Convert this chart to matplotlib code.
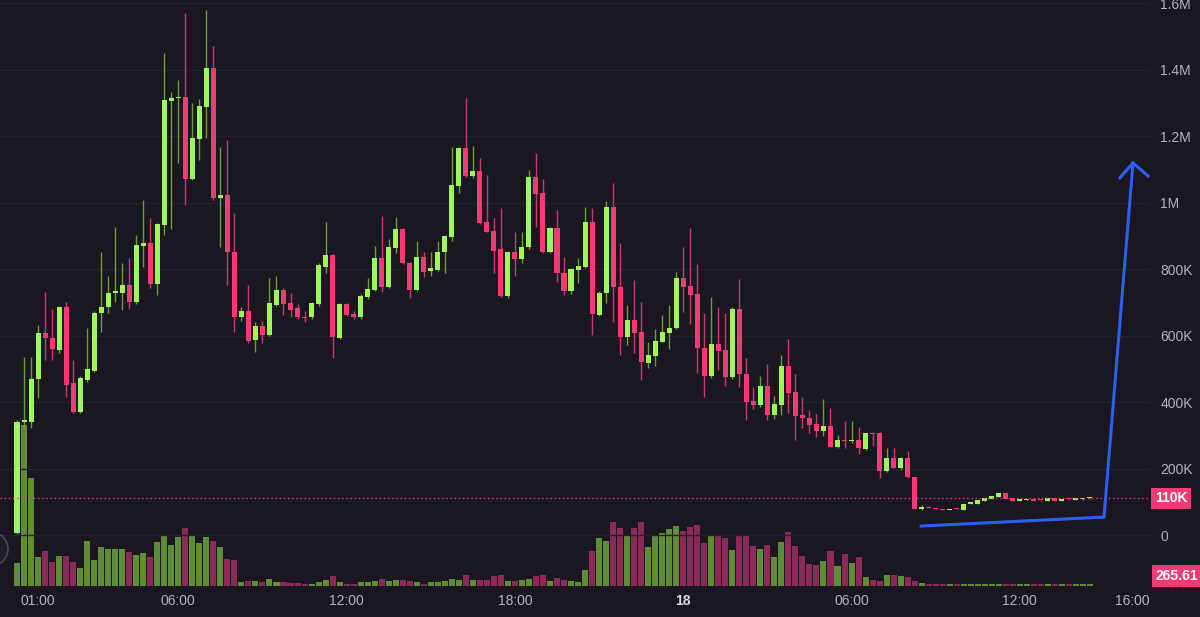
import numpy as np
import pandas as pd
import matplotlib
matplotlib.use("Agg")
import matplotlib.pyplot as plt
import matplotlib.dates as mdates
from matplotlib.patches import Circle

plt.rcParams['font.family'] = ['Liberation Sans', 'DejaVu Sans']

# ---------------- data (prices in K, 15-minute candles) ----------------
start_time = "2024-03-17 00:15"
opens = [6, 340, 340, 469, 608, 593, 556, 686, 457, 370, 466, 493, 668, 686, 728, 728, 752, 701, 869, 878,
         755, 932, 1305, 1314, 1320, 1071, 1191, 1287, 1405, 1014, 1023, 851, 656, 674, 587, 629, 602, 692, 737, 698,
         683, 656, 656, 695, 806, 842, 593, 695, 665, 656, 716, 737, 833, 746, 863, 920, 818, 737, 836, 794,
         797, 851, 896, 1050, 1164, 1080, 1095, 941, 914, 860, 719, 851, 830, 866, 1077, 1029, 851, 923, 788, 734,
         797, 806, 941, 662, 728, 987, 746, 596, 647, 611, 517, 538, 581, 608, 623, 773, 749, 725, 563, 478,
         575, 556, 475, 680, 484, 403, 391, 448, 361, 391, 508, 430, 361, 352, 334, 313, 328, 265, 286, 283,
         286, 259, 307, 307, 193, 232, 202, 232, 174, 78, 84, 81, 78, 75, 81, 75, 93, 93, 102, 108,
         114, 126, 111, 102, 105, 108, 105, 102, 111, 102, 108, 105, 107, 110]
highs = [346, 535, 535, 632, 731, 680, 689, 700, 526, 478, 623, 675, 851, 779, 926, 818, 833, 902, 1008, 953,
         940, 1450, 1335, 1369, 1570, 1299, 1311, 1579, 1471, 1167, 1188, 969, 686, 752, 641, 644, 773, 779, 745, 728,
         695, 674, 701, 818, 942, 845, 698, 698, 674, 725, 773, 869, 960, 890, 957, 923, 821, 884, 851, 851,
         884, 902, 1167, 1167, 1314, 1170, 1134, 1083, 953, 984, 854, 911, 911, 1098, 1149, 1071, 926, 978, 836, 803,
         833, 987, 984, 734, 1005, 1059, 878, 692, 767, 701, 581, 620, 662, 692, 791, 866, 923, 815, 668, 716,
         686, 668, 686, 770, 532, 445, 478, 514, 418, 541, 590, 484, 415, 376, 364, 409, 382, 301, 343, 343,
         325, 307, 310, 310, 262, 262, 234, 253, 176, 90, 86, 82, 79, 79, 82, 94, 100, 106, 112, 118,
         127, 127, 112, 109, 109, 109, 106, 112, 112, 109, 109, 111, 111, 111]
lows = [3, 316, 322, 412, 526, 526, 547, 415, 367, 367, 460, 490, 611, 668, 701, 677, 680, 695, 806, 743,
        722, 902, 920, 1119, 993, 1068, 1128, 1194, 1008, 866, 752, 611, 644, 578, 550, 578, 598, 688, 662, 656,
        650, 641, 650, 689, 788, 532, 590, 660, 650, 650, 710, 734, 731, 743, 850, 815, 713, 734, 776, 780,
        794, 788, 884, 1029, 1077, 1074, 935, 911, 788, 716, 713, 779, 818, 860, 926, 848, 848, 761, 722, 725,
        758, 803, 602, 659, 698, 641, 541, 572, 547, 466, 502, 510, 580, 560, 620, 671, 635, 487, 415, 472,
        496, 448, 470, 445, 346, 380, 385, 346, 349, 361, 367, 286, 322, 307, 295, 298, 265, 262, 262, 277,
        244, 256, 268, 171, 190, 202, 196, 171, 78, 75, 80, 77, 74, 74, 77, 74, 92, 92, 101, 107,
        113, 107, 101, 101, 104, 101, 103, 101, 101, 101, 106, 104, 106, 109]
closes = [340, 345, 469, 608, 593, 560, 686, 451, 370, 472, 499, 668, 686, 728, 734, 752, 701, 872, 878, 755,
          935, 1308, 1317, 1320, 1071, 1194, 1290, 1405, 1014, 1023, 851, 656, 674, 584, 629, 602, 698, 737, 695, 677,
          656, 653, 698, 812, 842, 596, 695, 662, 656, 719, 740, 833, 746, 866, 920, 818, 737, 836, 791, 803,
          851, 899, 1053, 1164, 1080, 1095, 938, 911, 854, 719, 851, 830, 866, 1077, 1026, 851, 923, 788, 734, 800,
          809, 941, 665, 728, 987, 746, 596, 647, 608, 520, 541, 584, 611, 623, 773, 746, 722, 563, 478, 575,
          553, 475, 680, 484, 400, 391, 448, 361, 394, 508, 427, 358, 352, 331, 313, 328, 265, 286, 283, 286,
          262, 307, 304, 193, 232, 202, 232, 174, 78, 84, 81, 78, 75, 78, 78, 93, 99, 105, 111, 117,
          126, 108, 102, 108, 108, 102, 104, 111, 102, 108, 107, 110, 110, 110]
volumes = [23, 160, 108, 29, 35, 24, 30, 30, 24, 18, 45, 26, 39, 37, 37, 37, 34, 31, 33, 29,
           44, 50, 41, 49, 58, 51, 43, 49, 45, 39, 27, 26, 4, 5, 5, 4, 7, 4, 4, 3,
           3, 2, 2, 3.5, 6, 10, 3.5, 2, 2, 3.5, 3.5, 4.5, 6.5, 4.5, 5.5, 5.5, 4.5, 3.5, 2, 3.5,
           3.5, 4.5, 6.5, 5.5, 10.5, 5.5, 5.5, 5.5, 10, 11, 4.5, 4.5, 5.5, 6.5, 10, 11, 4.5, 8, 5.5, 4.5,
           4, 16, 35, 48, 45, 64, 58, 51, 58, 64, 39, 51, 53, 57, 60, 55, 59, 61, 43, 50,
           51, 48, 36, 51, 50, 40, 37, 41, 29, 44, 54, 40, 30, 22, 21, 25, 35, 20, 32, 23,
           29, 9, 6, 5, 11, 11, 10, 9, 5, 3, 1.5, 1.5, 1.5, 2, 2, 2, 2, 2, 2, 2,
           2, 2, 1.5, 1.5, 1.5, 1.5, 1.5, 2, 2, 2, 1.5, 1.5, 1.5, 1.5]
last_price = 110
volume_label = "265.61"
price_ticks = [0, 200, 400, 600, 800, 1000, 1200, 1400, 1600]
price_tick_labels = ["0", "200K", "400K", "600K", "800K", "1M", "1.2M", "1.4M", "1.6M"]
time_ticks = ["2024-03-17 01:00", "2024-03-17 06:00", "2024-03-17 12:00", "2024-03-17 18:00",
              "2024-03-18 00:00", "2024-03-18 06:00", "2024-03-18 12:00", "2024-03-18 16:00"]
time_tick_labels = ["01:00", "06:00", "12:00", "18:00", "18", "06:00", "12:00", "16:00"]
# hand-drawn arrow (time, price K)
arrow_times = ["2024-03-18 08:29", "2024-03-18 15:00", "2024-03-18 16:02"]
arrow_prices = [27, 54, 1120]
arrow_head_times = ["2024-03-18 15:34", "2024-03-18 16:02", "2024-03-18 16:34"]
arrow_head_prices = [1075, 1120, 1081]

# ---------------- style ----------------
BG = "#1b1721"
GRID = "#25212c"
TXT = "#b4b2ba"
UP, DOWN = "#9ef55c", "#f43a74"
UP_WICK, DOWN_WICK = "#6f9a3e", "#cc3a6c"
UP_VOL, DOWN_VOL = "#5e8c37", "#8b2a57"
PINK = "#f23a74"
BLUE = "#2d5ff2"

o = np.array(opens, float); h = np.array(highs, float)
l = np.array(lows, float); c = np.array(closes, float)
v = np.array(volumes, float)
t = pd.date_range(start_time, periods=len(o), freq="15min")
tn = mdates.date2num(t)
step = 15 / 1440.0
up = c >= o

W, H = 1200, 617
fig = plt.figure(figsize=(W / 100, H / 100), dpi=100, facecolor=BG)
ax = fig.add_axes([0, 31 / H, 1150 / W, 586 / H])
ax2 = ax.twinx()
ax.set_zorder(ax2.get_zorder() + 1)
ax.patch.set_visible(False)
ax2.set_facecolor(BG)

# volume
ax2.bar(tn, v, width=step * 0.86, color=np.where(up, UP_VOL, DOWN_VOL), linewidth=0, align="center")
ax2.set_ylim(0, v.max() / 0.274)
ax2.set_yticks([])

# candles
ax.vlines(tn, l, h, colors=np.where(up, UP_WICK, DOWN_WICK), linewidth=1.0, zorder=2)
body_h = np.abs(c - o)
body_h = np.where(body_h < 3, 3, body_h)
ax.bar(tn, body_h, bottom=np.minimum(o, c), width=step * 0.72,
       color=np.where(up, UP, DOWN), linewidth=0, zorder=3)

ax.set_ylim(-153.5, 1610.5)
x0 = mdates.date2num(pd.Timestamp("2024-03-17 00:00")) - 0.3565 / 24
x1 = mdates.date2num(pd.Timestamp("2024-03-17 00:00")) + 40.64 / 24
ax.set_xlim(x0, x1)
ax2.set_xlim(x0, x1)

# grid
for p in price_ticks:
    ax.axhline(p, color=GRID, linewidth=1, zorder=0)

# last price dotted line
ax.axhline(last_price, color=PINK, linewidth=1, linestyle=(0, (1, 2)), zorder=4)

# axes styling
for s in list(ax.spines.values()) + list(ax2.spines.values()):
    s.set_visible(False)
ax.yaxis.tick_right()
ax.set_yticks(price_ticks)
ax.set_yticklabels(price_tick_labels)
ax.tick_params(axis="y", length=0, pad=7.5, labelsize=10, labelcolor=TXT)
ax.set_xticks(mdates.date2num(pd.to_datetime(time_ticks)))
ax.set_xticklabels(time_tick_labels)
ax.tick_params(axis="x", length=0, pad=6, labelsize=10, labelcolor=TXT)
for lab in ax.get_xticklabels():
    if lab.get_text() == "18":
        lab.set_fontweight("bold")
        lab.set_color("#dcdbe0")

# arrow drawing
ax.plot(mdates.date2num(pd.to_datetime(arrow_times)), arrow_prices, color=BLUE, linewidth=2.2,
        solid_joinstyle="miter", zorder=6, clip_on=False)
ax.plot(mdates.date2num(pd.to_datetime(arrow_head_times)), arrow_head_prices, color=BLUE, linewidth=2.2,
        solid_joinstyle="miter", zorder=6, clip_on=False)

# price label
ax.annotate(f"{last_price}K", xy=(1, last_price), xycoords=("axes fraction", "data"),
            xytext=(5, 0), textcoords="offset pixels", ha="left", va="center",
            color="white", fontsize=10, fontweight="bold", zorder=10, annotation_clip=False,
            bbox=dict(boxstyle="square,pad=0.28", fc=PINK, ec="none"))
fig.text(1156 / W, 1 - 576 / H, volume_label, ha="left", va="center", color="white",
         fontsize=10, fontweight="bold",
         bbox=dict(boxstyle="square,pad=0.28", fc=PINK, ec="none"))

# small round button at the left edge
fig.add_artist(Circle((-9, H - 549), 17, transform=None, facecolor="#221e28",
                      edgecolor="#4a4652", linewidth=1.2, zorder=20))

fig.savefig("out.png", dpi=100, facecolor=BG)
